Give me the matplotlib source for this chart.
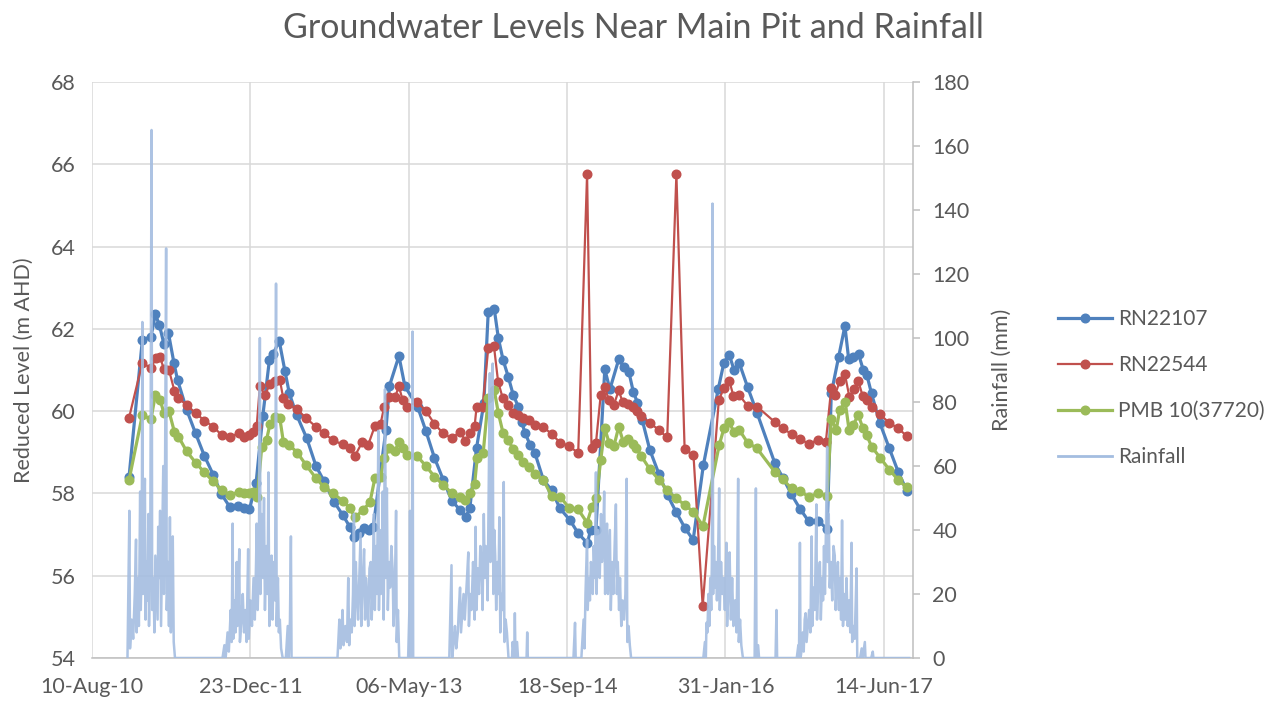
import numpy as np
import pandas as pd
import matplotlib.pyplot as plt
import matplotlib.dates as mdates
from matplotlib.lines import Line2D

plt.rcParams['font.family'] = ['Lato', 'DejaVu Sans']

# dates are Excel serial numbers (days since 1899-12-30), levels in m AHD
rn22107_day = [40517, 40559, 40586, 40600, 40613, 40627, 40641, 40659, 40670, 40699, 40727, 40755,
               40783, 40808, 40836, 40862, 40880, 40897, 40918, 40939, 40960, 40972, 40991, 41009,
               41023, 41046, 41078, 41107, 41133, 41164, 41192, 41214, 41228, 41244, 41260, 41276,
               41288, 41328, 41339, 41369, 41388, 41428, 41454, 41481, 41509, 41536, 41562, 41580,
               41593, 41614, 41637, 41651, 41670, 41683, 41698, 41714, 41730, 41746, 41756, 41767,
               41783, 41798, 41825, 41851, 41877, 41909, 41935, 41964, 41974, 41991, 42019, 42035,
               42063, 42079, 42095, 42109, 42122, 42137, 42161, 42190, 42217, 42244, 42272, 42298,
               42330, 42377, 42395, 42412, 42427, 42443, 42470, 42500, 42556, 42582, 42608, 42635,
               42663, 42693, 42721, 42734, 42757, 42777, 42789, 42804, 42820, 42835, 42846, 42861,
               42887, 42917, 42945, 42972]
rn22107_lvl = [58.41, 61.73, 61.81, 62.35, 62.09, 61.63, 61.91, 61.16, 60.76, 60.03, 59.46, 58.91,
               58.45, 57.99, 57.66, 57.69, 57.65, 57.61, 58.25, 59.87, 61.24, 61.39, 61.71, 60.98,
               60.43, 59.91, 59.34, 58.67, 58.29, 57.80, 57.47, 57.19, 56.95, 57.03, 57.15, 57.11,
               57.19, 59.54, 60.61, 61.34, 60.60, 60.11, 59.52, 58.87, 58.33, 57.82, 57.60, 57.42,
               57.65, 59.10, 60.19, 62.42, 62.48, 61.77, 61.24, 60.84, 60.39, 60.11, 59.74, 59.48,
               59.18, 58.99, 58.33, 58.08, 57.64, 57.35, 57.03, 56.79, 57.11, 57.11, 61.02, 60.53,
               61.26, 61.07, 60.95, 60.47, 60.21, 59.79, 59.06, 58.47, 57.96, 57.55, 57.16, 56.87,
               58.68, 60.53, 61.18, 61.37, 61.00, 61.18, 60.58, 59.95, 58.73, 58.37, 57.98, 57.63,
               57.32, 57.33, 57.14, 60.43, 61.31, 62.07, 61.26, 61.32, 61.39, 61.00, 60.89, 60.43,
               59.72, 59.10, 58.53, 58.07]

rn22544_day = [40517, 40559, 40586, 40601, 40615, 40627, 40643, 40660, 40673, 40699, 40727, 40755,
               40783, 40809, 40836, 40865, 40880, 40897, 40909, 40920, 40930, 40946, 40962, 40978,
               40993, 41004, 41020, 41048, 41076, 41107, 41132, 41162, 41191, 41214, 41230, 41254,
               41272, 41293, 41311, 41322, 41339, 41357, 41369, 41381, 41395, 41425, 41454, 41481,
               41509, 41536, 41562, 41579, 41593, 41608, 41614, 41633, 41651, 41669, 41682, 41697,
               41714, 41730, 41746, 41762, 41781, 41798, 41825, 41851, 41879, 41907, 41935, 41963,
               41977, 41991, 42006, 42019, 42032, 42048, 42063, 42075, 42092, 42107, 42121, 42134,
               42161, 42191, 42216, 42245, 42271, 42299, 42328, 42379, 42395, 42412, 42425, 42443,
               42470, 42500, 42555, 42581, 42609, 42635, 42663, 42693, 42717, 42734, 42746, 42761,
               42777, 42791, 42805, 42819, 42833, 42846, 42861, 42887, 42917, 42945, 42972]
rn22544_lvl = [59.84, 61.18, 61.04, 61.28, 61.31, 61.02, 61.00, 60.50, 60.31, 60.15, 59.95, 59.77,
               59.62, 59.42, 59.36, 59.48, 59.38, 59.42, 59.50, 59.64, 60.61, 60.39, 60.66, 60.73,
               60.76, 60.31, 60.17, 60.04, 59.83, 59.62, 59.46, 59.29, 59.19, 59.10, 58.91, 59.26,
               59.18, 59.64, 59.69, 60.09, 60.35, 60.35, 60.60, 60.26, 60.10, 60.23, 60.01, 59.69,
               59.46, 59.34, 59.50, 59.27, 59.48, 59.64, 60.09, 60.09, 61.53, 61.58, 60.72, 60.31,
               60.15, 59.96, 59.91, 59.83, 59.79, 59.66, 59.62, 59.44, 59.23, 59.15, 58.98, 65.76,
               59.11, 59.22, 60.39, 60.58, 60.27, 60.16, 60.51, 60.22, 60.18, 60.11, 60.01, 59.88,
               59.72, 59.53, 59.36, 65.76, 59.07, 58.93, 55.26, 60.27, 60.56, 60.74, 60.37, 60.39,
               60.13, 60.11, 59.74, 59.58, 59.44, 59.33, 59.20, 59.31, 59.26, 60.57, 60.39, 60.74,
               60.90, 60.35, 60.53, 60.74, 60.37, 60.26, 60.10, 59.92, 59.72, 59.58, 59.40]

pmb10_day = [40517, 40559, 40586, 40600, 40615, 40627, 40643, 40660, 40673, 40699, 40727, 40755,
             40783, 40809, 40836, 40865, 40880, 40897, 40909, 40922, 40936, 40951, 40962, 40978,
             40993, 41004, 41023, 41048, 41076, 41107, 41132, 41162, 41191, 41214, 41230, 41257,
             41278, 41293, 41311, 41322, 41339, 41357, 41369, 41383, 41395, 41425, 41454, 41481,
             41509, 41536, 41562, 41579, 41593, 41608, 41616, 41635, 41651, 41670, 41683, 41698,
             41714, 41730, 41746, 41762, 41781, 41798, 41825, 41851, 41879, 41907, 41935, 41963,
             41978, 41992, 42006, 42019, 42033, 42048, 42063, 42077, 42092, 42107, 42119, 42134,
             42161, 42190, 42216, 42244, 42272, 42299, 42329, 42380, 42395, 42412, 42426, 42443,
             42470, 42499, 42555, 42581, 42609, 42635, 42663, 42693, 42721, 42734, 42750, 42760,
             42778, 42790, 42804, 42819, 42834, 42846, 42861, 42888, 42917, 42945, 42972]
pmb10_lvl = [58.33, 59.91, 59.80, 60.39, 60.27, 59.96, 60.00, 59.50, 59.38, 59.02, 58.75, 58.51,
             58.29, 58.08, 57.96, 58.04, 58.00, 58.00, 58.04, 57.92, 59.14, 59.30, 59.69, 59.85,
             59.83, 59.26, 59.18, 58.99, 58.69, 58.37, 58.16, 58.00, 57.82, 57.64, 57.42, 57.60,
             57.80, 58.37, 58.39, 58.85, 59.10, 59.02, 59.26, 59.10, 58.93, 58.92, 58.67, 58.41,
             58.21, 58.00, 57.92, 57.84, 58.00, 58.23, 58.85, 58.98, 60.31, 60.51, 59.95, 59.46,
             59.30, 59.07, 58.93, 58.77, 58.65, 58.47, 58.33, 57.94, 57.91, 57.64, 57.61, 57.29,
             57.66, 57.88, 58.81, 59.58, 59.22, 59.16, 59.62, 59.26, 59.32, 59.19, 59.10, 58.91,
             58.59, 58.33, 58.08, 57.88, 57.72, 57.55, 57.21, 59.17, 59.58, 59.73, 59.50, 59.55,
             59.23, 59.10, 58.53, 58.34, 58.12, 58.07, 57.91, 58.01, 57.93, 59.81, 59.55, 60.02,
             60.22, 59.55, 59.67, 59.91, 59.58, 59.42, 59.14, 58.87, 58.58, 58.33, 58.15]

# daily rainfall (mm), dry days in between are zero
rain_day = [40512, 40518, 40520, 40525, 40530, 40535, 40539, 40541, 40545, 40548, 40552, 40554,
            40557, 40559, 40561, 40564, 40567, 40569, 40572, 40575, 40578, 40580, 40584, 40588,
            40590, 40594, 40597, 40600, 40604, 40607, 40609, 40612, 40615, 40618, 40622, 40625,
            40627, 40630, 40634, 40636, 40640, 40643, 40646, 40649, 40652, 40655, 40658, 40662,
            40812, 40818, 40822, 40828, 40832, 40838, 40841, 40844, 40846, 40850, 40853, 40857,
            40859, 40862, 40865, 40867, 40872, 40876, 40880, 40884, 40888, 40893, 40895, 40900,
            40905, 40910, 40914, 40918, 40920, 40923, 40927, 40930, 40932, 40936, 40940, 40943,
            40946, 40950, 40954, 40957, 40960, 40964, 40967, 40970, 40974, 40978, 40981, 40983,
            40987, 40990, 40993, 40997, 41002, 41012, 41018, 41021, 41025, 41028, 41030,
            41175, 41181, 41184, 41188, 41191, 41194, 41200, 41205, 41209, 41212, 41216, 41220,
            41224, 41227, 41229, 41233, 41236, 41240, 41244, 41248, 41250, 41254, 41259, 41262,
            41265, 41268, 41272, 41276, 41280, 41283, 41286, 41290, 41293, 41297, 41300, 41304,
            41306, 41309, 41312, 41316, 41318, 41321, 41325, 41328, 41331, 41334, 41338, 41341,
            41345, 41349, 41352, 41356, 41360, 41362, 41366, 41370, 41398, 41402, 41404, 41406,
            41410, 41412, 41414,
            41528, 41535, 41537, 41542, 41546, 41550, 41555, 41558, 41562, 41565, 41569, 41573,
            41577, 41580, 41584, 41588, 41590, 41594, 41598, 41603, 41606, 41608, 41611, 41614,
            41618, 41622, 41626, 41630, 41633, 41637, 41640, 41643, 41646, 41649, 41652, 41656,
            41658, 41662, 41665, 41667, 41670, 41673, 41676, 41680, 41683, 41686, 41689, 41693,
            41696, 41700, 41702, 41706, 41710, 41715, 41726, 41728, 41733, 41735, 41737, 41742,
            41745, 41772, 41774, 41776,
            41920, 41925, 41927, 41945, 41948, 41952, 41955, 41958, 41963, 41965, 41969, 41972,
            41975, 41978, 41981, 41984, 41988, 41991, 41993, 41997, 42000, 42003, 42007, 42010,
            42014, 42017, 42020, 42023, 42026, 42029, 42032, 42035, 42038, 42042, 42046, 42050,
            42054, 42057, 42060, 42064, 42067, 42071, 42075, 42080, 42084, 42088, 42090, 42094,
            42098, 42102,
            42330, 42335, 42338, 42340, 42343, 42346, 42349, 42352, 42355, 42357, 42359, 42361,
            42364, 42367, 42370, 42373, 42376, 42380, 42382, 42386, 42390, 42394, 42398, 42403,
            42405, 42409, 42413, 42417, 42421, 42425, 42430, 42435, 42440, 42442, 42446, 42450,
            42455, 42492, 42496, 42498, 42503, 42506, 42558, 42561, 42563,
            42625, 42630, 42632, 42635, 42637, 42641, 42644, 42647, 42650, 42653, 42656, 42660,
            42664, 42668, 42672, 42674, 42678, 42682, 42687, 42689, 42693, 42698, 42701, 42705,
            42708, 42711, 42714, 42717, 42721, 42723, 42726, 42729, 42733, 42737, 42741, 42745,
            42748, 42752, 42755, 42758, 42762, 42765, 42768, 42771, 42775, 42779, 42782, 42786,
            42790, 42794, 42798, 42800, 42804, 42808, 42814, 42816, 42825, 42830, 42833, 42840,
            42842, 42860, 42865, 42867, 42980]
rain_mm = [0, 46, 3, 12, 6, 20, 37, 8, 25, 10, 52, 15,
           30, 105, 20, 40, 56, 12, 30, 18, 45, 10, 35, 165,
           15, 25, 8, 32, 20, 12, 41, 25, 46, 10, 38, 60,
           20, 45, 128, 15, 30, 10, 44, 8, 20, 38, 5, 0,
           0, 4, 0, 8, 2, 15, 5, 42, 6, 18, 8, 30,
           10, 22, 34, 5, 12, 20, 8, 15, 5, 34, 6, 18,
           10, 25, 12, 30, 42, 15, 30, 100, 20, 45, 25, 50,
           15, 35, 20, 58, 10, 25, 32, 12, 30, 18, 117, 10,
           25, 8, 12, 3, 0, 0, 10, 0, 12, 38, 0,
           0, 12, 3, 8, 15, 4, 10, 5, 25, 4, 12, 8,
           20, 45, 10, 30, 20, 12, 25, 39, 10, 22, 34, 12,
           25, 20, 10, 28, 30, 12, 22, 45, 15, 35, 20, 71,
           15, 40, 20, 30, 52, 12, 84, 25, 53, 15, 30, 22,
           35, 28, 10, 20, 46, 5, 15, 0, 0, 15, 46, 0,
           20, 102, 0,
           0, 29, 0, 5, 10, 3, 8, 15, 22, 8, 14, 20,
           12, 18, 25, 33, 10, 20, 15, 30, 22, 12, 41, 15,
           28, 20, 35, 30, 15, 45, 25, 35, 30, 18, 50, 89,
           30, 55, 92, 20, 40, 32, 15, 30, 20, 44, 8, 20,
           15, 55, 5, 12, 8, 0, 0, 5, 0, 14, 0, 5,
           0, 0, 8, 0,
           0, 11, 0, 0, 5, 12, 3, 20, 37, 15, 25, 18,
           30, 28, 20, 35, 25, 58, 20, 40, 35, 25, 45, 30,
           38, 52, 20, 35, 42, 20, 30, 40, 15, 30, 20, 35,
           48, 20, 30, 15, 25, 10, 18, 12, 20, 56, 5, 10,
           4, 0,
           0, 5, 0, 11, 8, 20, 10, 25, 15, 30, 142, 20,
           35, 22, 30, 18, 28, 53, 15, 30, 20, 25, 15, 36,
           10, 20, 33, 12, 25, 10, 18, 8, 56, 5, 12, 4,
           0, 0, 53, 0, 4, 0, 0, 15, 0,
           0, 4, 0, 36, 0, 3, 8, 2, 12, 14, 5, 10,
           15, 8, 38, 10, 22, 15, 48, 12, 25, 30, 12, 25,
           18, 35, 20, 40, 66, 30, 45, 22, 30, 18, 35, 32,
           15, 25, 30, 15, 25, 12, 43, 10, 20, 12, 25, 10,
           18, 8, 36, 5, 10, 6, 28, 0, 0, 3, 0, 5,
           0, 0, 2, 0, 0]

tick_days = [40400, 40900, 41400, 41900, 42400, 42900]
x_max = 42992


def xl(days):
    return pd.to_datetime(np.array(days), unit='D', origin='1899-12-30')


blue = '#4F81BD'
red = '#C0504D'
green = '#9BBB59'
rain_col = '#A4BDE0'
grid_col = '#D9D9D9'
text_col = '#595959'

fig = plt.figure(figsize=(12.77, 7.02), dpi=100)
ax = fig.add_axes([92 / 1277, 1 - 658 / 702, (913 - 92) / 1277, (658 - 82) / 702])
ax2 = ax.twinx()

ax.plot(xl(rn22107_day), rn22107_lvl, color=blue, lw=2.3, marker='o', ms=6.2, zorder=3)
ax.plot(xl(rn22544_day), rn22544_lvl, color=red, lw=1.6, marker='o', ms=6.2, zorder=3)
ax.plot(xl(pmb10_day), pmb10_lvl, color=green, lw=2.3, marker='o', ms=6.2, zorder=3)
ax2.plot(xl(rain_day), rain_mm, color=rain_col, lw=1.8, alpha=0.9)

ax.set_ylim(54, 68)
ax.set_yticks(np.arange(54, 69, 2))
ax2.set_ylim(0, 180)
ax2.set_yticks(np.arange(0, 181, 20))
ax.set_xlim(xl([tick_days[0]])[0], xl([x_max])[0])
ax.set_xticks(xl(tick_days))
ax.xaxis.set_major_formatter(mdates.DateFormatter('%d-%b-%y'))

ax.grid(True, color=grid_col, lw=1.1)
ax.set_axisbelow(True)
for a in (ax, ax2):
    for s in a.spines.values():
        s.set_visible(False)
ax.spines['bottom'].set_visible(True)
ax.spines['bottom'].set_color('#BFBFBF')
ax.spines['bottom'].set_linewidth(1.1)
ax2.spines['right'].set_visible(True)
ax2.spines['right'].set_color('#BFBFBF')
ax2.spines['right'].set_linewidth(1.1)

ax.tick_params(axis='x', length=0, pad=14, labelsize=15.5, labelcolor=text_col)
ax.tick_params(axis='y', length=0, pad=12, labelsize=15.5, labelcolor=text_col)
ax2.tick_params(axis='y', length=5, width=1.1, color='#BFBFBF', pad=9, labelsize=15.5,
                labelcolor=text_col)

ax.set_ylabel('Reduced Level (m AHD)', fontsize=15.5, color=text_col, labelpad=12)
ax2.set_ylabel('Rainfall (mm)', fontsize=15.5, color=text_col, labelpad=16)
fig.suptitle('Groundwater Levels Near Main Pit and Rainfall', x=633 / 1277, y=1 - 28 / 702,
             va='center', fontsize=24.5, color=text_col)

handles = [
    Line2D([], [], color=blue, lw=2.3, marker='o', ms=6.2),
    Line2D([], [], color=red, lw=1.6, marker='o', ms=6.2),
    Line2D([], [], color=green, lw=2.3, marker='o', ms=6.2),
    Line2D([], [], color=rain_col, lw=2.0),
]
fig.legend(handles, ['RN22107', 'RN22544', 'PMB 10(37720)', 'Rainfall'],
           loc='center left', bbox_to_anchor=(1058 / 1277, 1 - 388 / 702), frameon=False,
           fontsize=15, labelcolor=text_col, handlelength=2.6, handletextpad=0.3,
           labelspacing=1.25, borderpad=0, borderaxespad=0)

fig.savefig('out.png', dpi=100)
